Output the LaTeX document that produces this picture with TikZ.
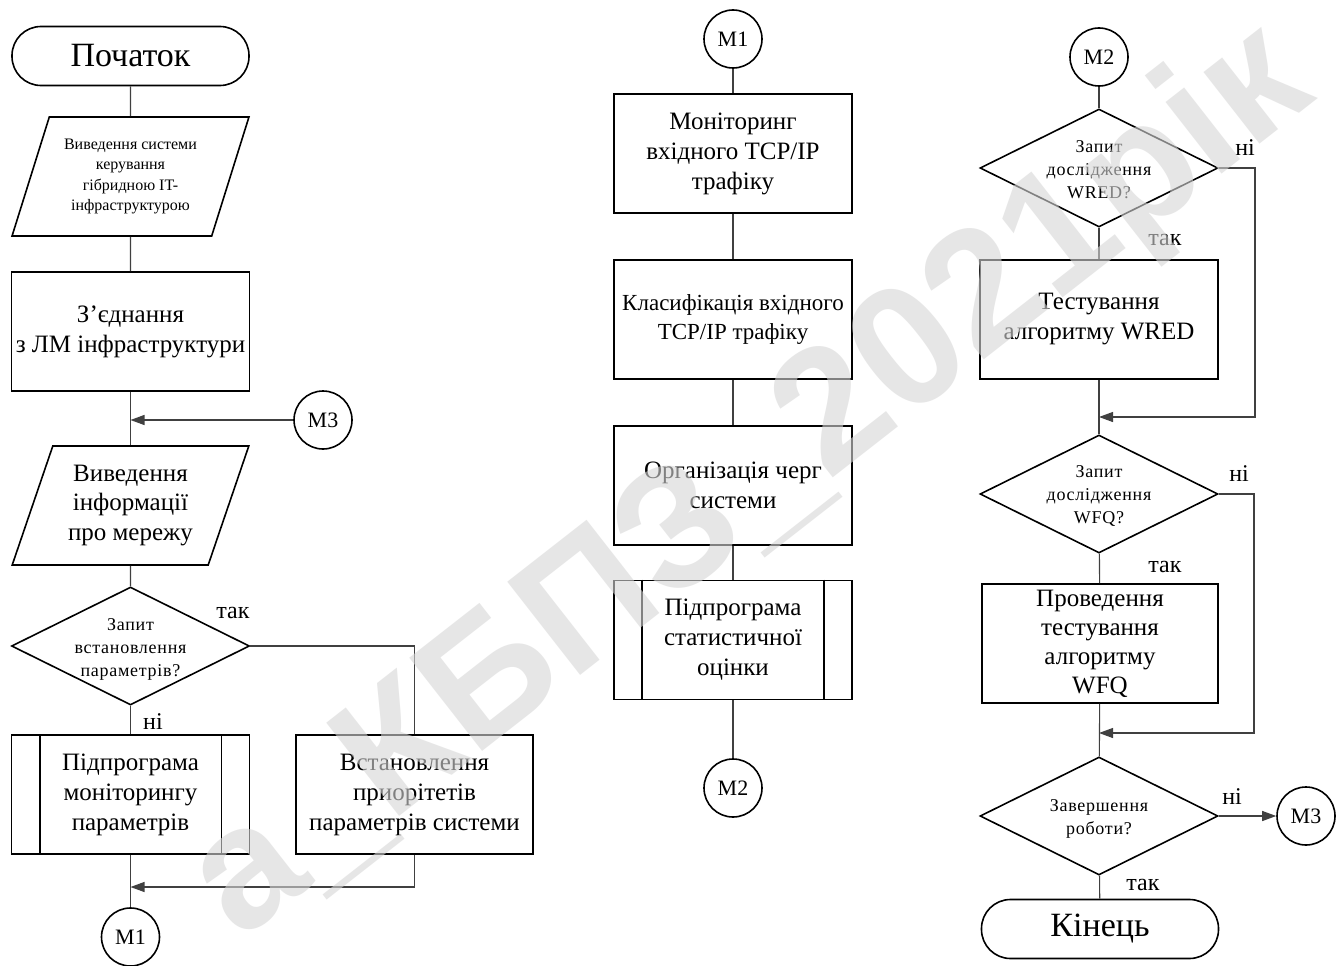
\documentclass[tikz,border=0pt]{standalone}
\usepackage{fontspec}
\setmainfont{Liberation Serif}
\newfontfamily\wmfont{Liberation Sans}
\newfontfamily\dfont{Liberation Serif}[LetterSpace=4]
\usetikzlibrary{shapes.geometric,arrows.meta}
\definecolor{wmgray}{gray}{0.84}
\tikzset{
 base/.style={draw=black, line width=1.6pt, align=center, inner sep=0pt},
 term/.style={base, rounded corners=29pt, minimum width=237pt, minimum height=59pt, font=\fontsize{34}{38}\selectfont},
 proc/.style={base, minimum width=238pt, minimum height=119pt, font=\fontsize{25}{30}\selectfont},
 io/.style={base, trapezium, trapezium left angle=68, trapezium right angle=112, trapezium stretches=true, minimum width=237pt, minimum height=119pt},
 dec/.style={base, diamond, minimum width=238pt, minimum height=118pt},
 dtext/.style={align=center, inner sep=0pt, font=\dfont\fontsize{18}{23}\selectfont},
 conn/.style={base, circle, minimum size=58pt, font=\fontsize{22}{24}\selectfont},
 line/.style={line width=1.1pt, draw=black!75},
 arr/.style={line, -{Triangle[length=14pt,width=10pt]}},
 lbl/.style={font=\fontsize{24}{26}\selectfont, inner sep=0pt},
 wm/.style={font=\wmfont\bfseries\fontsize{172}{176}\selectfont, text=wmgray, text opacity=0.6, rotate=38, inner sep=0pt},
}
\begin{document}
\begin{tikzpicture}[x=1pt,y=-1pt]
\fill[white] (0,0) rectangle (1344,966);
\useasboundingbox (0,0) rectangle (1344,966);

% ---------- left column ----------
\node[term] (start) at (130.5,56) {Початок};
\node[io, font=\fontsize{16}{20.5}\selectfont] (io1) at (130.5,176.5) {Виведення системи\\керування\\гібридною IT-\\інфраструктурою};
\node[proc] (conn1) at (130.5,331.5) {З’єднання\\з ЛМ інфраструктури};
\node[conn] (M3a) at (323,420) {М3};
\coordinate (j1) at (130.5,420);
\node[io, font=\fontsize{25}{29.5}\selectfont] (io2) at (130.5,505.5) {Виведення\\інформації\\про мережу};
\node[dec] (d1) at (130.5,646) {};
\node[dtext] (d1t) at (130.5,649) {Запит\\встановлення\\параметрів?};
\node[proc] (sub1) at (130.5,794.5) {Підпрограма\\моніторингу\\параметрів};
\draw[line width=1.6pt] ([xshift=29pt]sub1.north west) -- ([xshift=29pt]sub1.south west)
  ([xshift=-29pt]sub1.north east) -- ([xshift=-29pt]sub1.south east);
\node[proc, minimum width=237pt] (set) at (414.5,794.5) {Встановлення\\приорітетів\\параметрів системи};
\coordinate (j2) at (130.5,887);
\node[conn] (M1a) at (130.5,937) {М1};

\draw[line] (start) -- (io1);
\draw[line] (io1) -- (conn1);
\draw[line] (conn1) -- (io2);
\draw[arr] (M3a) -- (j1);
\draw[line] (io2) -- (d1);
\draw[line] (d1) -- (sub1);
\draw[line] (d1.east) -| (set.north);
\draw[line] (sub1) -- (M1a);
\draw[arr] (set.south) |- (j2);
\node[lbl] (l1) at (233,613) {так};
\node[lbl] (l2) at (153,722) {ні};

% ---------- middle column ----------
\node[conn] (M1b) at (733,39) {М1};
\node[proc] (mon) at (733,153.5) {Моніторинг\\вхідного TCP/IP\\трафіку};
\node[proc, font=\fontsize{23}{29}\selectfont] (cls) at (733,319.5) {Класифікація вхідного\\TCP/IP трафіку};
\node[proc] (org) at (733,485.5) {Організація черг\\системи};
\node[proc] (sub2) at (733,640) {Підпрограма\\статистичної\\оцінки};
\draw[line width=1.6pt] ([xshift=29pt]sub2.north west) -- ([xshift=29pt]sub2.south west)
  ([xshift=-29pt]sub2.north east) -- ([xshift=-29pt]sub2.south east);
\node[conn] (M2a) at (733,788) {М2};
\draw[line] (M1b) -- (mon);
\draw[line] (mon) -- (cls);
\draw[line] (cls) -- (org);
\draw[line] (org) -- (sub2);
\draw[line] (sub2) -- (M2a);

% ---------- right column ----------
\node[conn] (M2b) at (1099,57) {М2};
\node[dec] (d2) at (1099,168) {};
\node[dtext] (d2t) at (1099,170) {Запит\\дослідження\\WRED?};
\node[proc] (tst) at (1099,319.5) {Тестування\\алгоритму WRED};
\coordinate (j3) at (1099,417);
\coordinate (r1) at (1255,417);
\node[dec] (d3) at (1099,494) {};
\node[dtext] (d3t) at (1099,496) {Запит\\дослідження\\WFQ?};
\node[proc, minimum width=236pt, font=\fontsize{25}{29}\selectfont] (prov) at (1100,643.5) {Проведення\\тестування\\алгоритму\\WFQ};
\coordinate (j4) at (1099,733);
\coordinate (r2) at (1254,733);
\node[dec] (d4) at (1099,816) {};
\node[dtext] (d4t) at (1099,819) {Завершення\\роботи?};
\node[conn] (M3b) at (1306,816) {М3};
\node[term] (end) at (1100,929) {Кінець};

\draw[line] (M2b) -- (d2);
\draw[line] (d2) -- (tst);
\draw[line] (tst) -- (d3);
\draw[arr] (d2.east) -| (r1) -- (j3);
\draw[line] (d3) -- (prov);
\draw[line] (prov) -- (d4);
\draw[arr] (d3.east) -| (r2) -- (j4);
\draw[arr] (d4) -- (M3b);
\draw[line] (d4) -- (end);
\node[lbl] (l3) at (1245,148) {ні};
\node[lbl] (l4) at (1165,240) {так};
\node[lbl] (l5) at (1239,474) {ні};
\node[lbl] (l6) at (1165,567) {так};
\node[lbl] (l7) at (1232,797) {ні};
\node[lbl] (l8) at (1143,885) {так};

% ---------- watermark ----------
\begin{scope}
\clip (0,0) rectangle (1344,966);
\node[wm] (wmark) at (752,485) {а\_КБПЗ\_2021рік};
\end{scope}
\end{tikzpicture}
\end{document}
